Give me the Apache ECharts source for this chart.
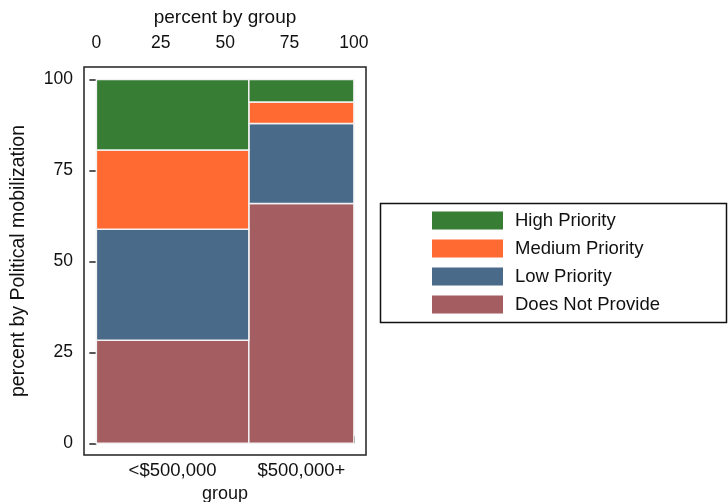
<!DOCTYPE html>
<html>
<head>
<meta charset="UTF-8">
<title>Political mobilization by group</title>
<script src="https://cdn.jsdelivr.net/npm/echarts@6.0.0/dist/echarts.min.js"></script>
<style>
html, body { margin: 0; padding: 0; background: #fff; }
#main { width: 728px; height: 502px; }
</style>
</head>
<body>
<div id="main"></div>
<script>
// data
var groups = ['<$500,000', '$500,000+'];
var groupShare = [59.2, 40.8];            // percent by group (column widths)
var levels = ['Does Not Provide', 'Low Priority', 'Medium Priority', 'High Priority'];
var doesNotProvide = [28.3, 65.9];
var lowPriority = [30.5, 22.0];
var mediumPriority = [21.8, 5.9];
var highPriority = [19.4, 6.2];
var xTicks = [0, 25, 50, 75, 100];
var yTicks = [0, 25, 50, 75, 100];

var levelValues = [doesNotProvide, lowPriority, mediumPriority, highPriority];
var colors = ['#a45d60', '#4a6a8a', '#ff6a33', '#377d34'];
var font = 'Liberation Sans, Arial, sans-serif';

// column positions on the x scale
var xStart = [], centers = [], acc = 0;
for (var g = 0; g < groups.length; g++) {
	xStart.push(acc);
	centers.push(acc + groupShare[g] / 2);
	acc += groupShare[g];
}

// one custom series per level, each rect = [x0, x1, y0, y1]
var cum = groups.map(function(){ return 0; });
var series = [];
for (var i = 0; i < levels.length; i++) {
	var data = [];
	for (var g = 0; g < groups.length; g++) {
		var y0 = cum[g], y1 = cum[g] + levelValues[i][g];
		data.push([xStart[g], xStart[g] + groupShare[g], y0, y1]);
		cum[g] = y1;
	}
	series.push({
		name: levels[i],
		type: 'custom',
		xAxisIndex: 0,
		yAxisIndex: 0,
		itemStyle: { color: colors[i] },
		encode: { x: [0, 1], y: [2, 3] },
		data: data,
		renderItem: function(params, api){
			var p0 = api.coord([api.value(0), api.value(2)]);
			var p1 = api.coord([api.value(1), api.value(3)]);
			return {
				type: 'rect',
				shape: { x: p0[0], y: p1[1], width: p1[0] - p0[0], height: p0[1] - p1[1] },
				style: { fill: api.visual('color'), stroke: '#f2f2f2', lineWidth: 1.5 }
			};
		}
	});
}

var chart = echarts.init(document.getElementById('main'));
var option = {
	animation: false,
	textStyle: { fontFamily: font, color: '#111' },
	grid: {
		left: 84, top: 67, width: 282, height: 388,
		show: true, borderColor: '#222', borderWidth: 1.5,
		outerBoundsMode: 'none'
	},
	xAxis: [
		{
			type: 'value', position: 'top', min: -4.8, max: 104.7,
			name: 'percent by group', nameLocation: 'middle', nameGap: 40,
			nameTextStyle: { fontSize: 19, color: '#111', fontFamily: font },
			axisLine: { show: false },
			axisTick: { show: true, customValues: xTicks, length: 7, lineStyle: { color: '#222', width: 1.5 } },
			axisLabel: { customValues: xTicks, fontSize: 17.5, color: '#111', margin: 15, fontFamily: font },
			splitLine: { show: false }
		},
		{
			type: 'value', position: 'bottom', min: -4.8, max: 104.7,
			name: 'group', nameLocation: 'middle', nameGap: 25,
			nameTextStyle: { fontSize: 18, color: '#111', fontFamily: font },
			axisLine: { show: false },
			axisTick: { show: false },
			axisLabel: {
				customValues: centers, fontSize: 18.5, color: '#111', margin: 6, fontFamily: font,
				formatter: function(v){
					for (var k = 0; k < centers.length; k++) {
						if (Math.abs(centers[k] - v) < 0.01) return groups[k];
					}
					return '';
				}
			},
			splitLine: { show: false }
		}
	],
	yAxis: {
		type: 'value', min: -3.2, max: 103.4,
		name: 'percent by Political mobilization', nameLocation: 'middle', nameGap: 55,
		nameTextStyle: { fontSize: 19.5, color: '#111', fontFamily: font },
		axisLine: { show: false },
		axisTick: { show: true, customValues: yTicks, length: 7, lineStyle: { color: '#222', width: 1.5 } },
		axisLabel: { customValues: yTicks, fontSize: 17.5, color: '#111', margin: 11, fontFamily: font },
		splitLine: { show: false }
	},
	legend: {
		orient: 'vertical', left: 427, top: 206,
		data: ['High Priority', 'Medium Priority', 'Low Priority', 'Does Not Provide'],
		icon: 'rect', itemWidth: 71, itemHeight: 18, itemGap: 9,
		selectedMode: false,
		textStyle: { fontSize: 18.5, color: '#111', fontFamily: font, padding: [0, 0, 0, 7] }
	},
	graphic: [{
		type: 'rect', left: 378, top: 201,
		shape: { width: 346, height: 119 },
		style: { fill: 'none', stroke: '#111', lineWidth: 1.5 }
	}],
	series: series
};
chart.setOption(option);
</script>
</body>
</html>
